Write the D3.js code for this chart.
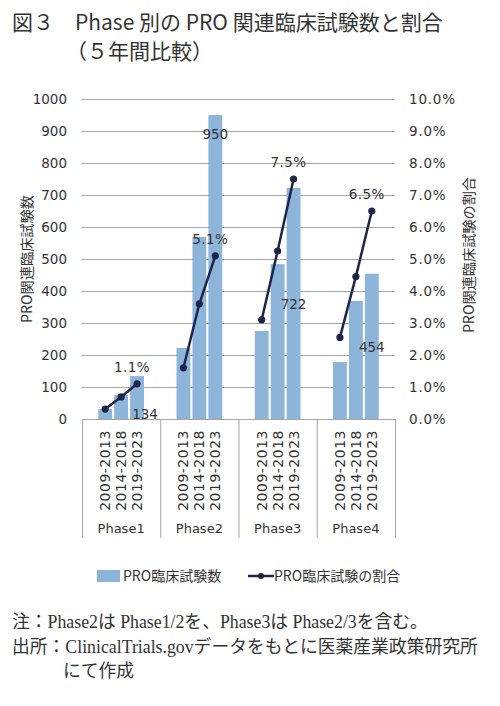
<!DOCTYPE html>
<html>
<head>
<meta charset="utf-8">
<script src="https://cdn.jsdelivr.net/npm/d3@7"></script>
<style>
  body { margin: 0; background: #fff; }
  text { fill: #333; }
</style>
</head>
<body>
<div id="chart"></div>
<script>
// data
const phases = ['Phase1', 'Phase2', 'Phase3', 'Phase4'];
const periods = ['2009-2013', '2014-2018', '2019-2023'];
const counts = [
  [31, 75, 134],
  [222, 569, 950],
  [275, 484, 722],
  [178, 369, 454],
];
const shares = [
  [0.31, 0.69, 1.1],
  [1.6, 3.6, 5.1],
  [3.1, 5.25, 7.5],
  [2.55, 4.45, 6.5],
];
const countTicks = d3.range(0, 1001, 100);
const shareTicks = d3.range(0, 10.01, 1);
// where the latest-period labels sit, in count units
const countLabelAt = [15, 890, 360, 225];

const width = 500, height = 706;
const margin = { top: 99, right: 105, bottom: 287, left: 82 };
const sans = 'Verdana, "DejaVu Sans", "Bitstream Vera Sans", sans-serif';
const cjk = '"Noto Sans CJK JP", sans-serif';

const svg = d3.select('#chart').append('svg')
  .attr('width', width)
  .attr('height', height)
  .attr('font-family', sans);

const x0 = d3.scaleBand()
  .domain(phases)
  .range([margin.left, width - margin.right]);

const x1 = d3.scaleBand()
  .domain(periods)
  .range([0, x0.bandwidth()])
  .paddingInner(0.13)
  .paddingOuter(1.02);

const y = d3.scaleLinear()
  .domain([0, 1000])
  .range([height - margin.bottom, margin.top]);

const y2 = d3.scaleLinear()
  .domain([0, 10])
  .range([height - margin.bottom, margin.top]);

const blue = '#8db5da';
const navy = '#1f2549';
const grid = '#a6a6a6';

// gridlines
svg.append('g')
  .selectAll('line')
  .data(countTicks)
  .join('line')
  .attr('x1', margin.left)
  .attr('x2', width - margin.right)
  .attr('y1', d => y(d) + 0.5)
  .attr('y2', d => y(d) + 0.5)
  .attr('stroke', grid)
  .attr('stroke-width', 1);

// left axis
svg.append('g')
  .attr('transform', `translate(${margin.left - 15},0)`)
  .call(d3.axisLeft(y).tickValues(countTicks).tickSize(0).tickPadding(0)
    .tickFormat(d3.format('d')))
  .attr('font-family', sans)
  .attr('font-size', 13.5)
  .call(g => g.select('.domain').remove())
  .call(g => g.selectAll('text').attr('fill', '#333'));

// right axis
svg.append('g')
  .attr('transform', `translate(${width - margin.right + 14},0)`)
  .call(d3.axisRight(y2).tickValues(shareTicks).tickSize(0).tickPadding(0)
    .tickFormat(d => d.toFixed(1) + '%'))
  .attr('font-family', sans)
  .attr('font-size', 13.5)
  .attr('letter-spacing', 0.8)
  .call(g => g.select('.domain').remove())
  .call(g => g.selectAll('text').attr('fill', '#333'));

// bars
const groups = svg.append('g')
  .selectAll('g')
  .data(phases)
  .join('g')
  .attr('transform', d => `translate(${x0(d)},0)`);

groups.selectAll('rect')
  .data((p, i) => counts[i].map((v, j) => ({ period: periods[j], v })))
  .join('rect')
  .attr('x', d => x1(d.period))
  .attr('width', x1.bandwidth())
  .attr('y', d => y(d.v))
  .attr('height', d => y(0) - y(d.v))
  .attr('fill', blue);

// category axis box
const axisBottom = height - margin.bottom + 119;
svg.append('line')
  .attr('x1', margin.left).attr('x2', width - margin.right)
  .attr('y1', y(0) + 0.5).attr('y2', y(0) + 0.5)
  .attr('stroke', grid);

svg.append('g')
  .selectAll('line')
  .data(phases.concat(['end']))
  .join('line')
  .attr('x1', d => (d === 'end' ? width - margin.right : x0(d)) + 0.5)
  .attr('x2', d => (d === 'end' ? width - margin.right : x0(d)) + 0.5)
  .attr('y1', y(0))
  .attr('y2', axisBottom)
  .attr('stroke', grid);

groups.selectAll('text.period')
  .data(periods)
  .join('text')
  .attr('class', 'period')
  .attr('transform', d => `translate(${x1(d) + x1.bandwidth() / 2 + 5},${y(0) + 11}) rotate(-90)`)
  .attr('text-anchor', 'end')
  .attr('font-size', 14)
  .attr('letter-spacing', 0.5)
  .text(d => d);

groups.append('text')
  .attr('x', x0.bandwidth() / 2)
  .attr('y', y(0) + 114)
  .attr('text-anchor', 'middle')
  .attr('font-size', 13)
  .text(d => d);

// share lines
const line = d3.line()
  .x((d, j) => x1(periods[j]) + x1.bandwidth() / 2)
  .y(d => y2(d));

groups.append('path')
  .attr('d', (p, i) => line(shares[i]))
  .attr('fill', 'none')
  .attr('stroke', navy)
  .attr('stroke-width', 2.5);

groups.selectAll('circle')
  .data((p, i) => shares[i].map((v, j) => ({ period: periods[j], v })))
  .join('circle')
  .attr('cx', d => x1(d.period) + x1.bandwidth() / 2)
  .attr('cy', d => y2(d.v))
  .attr('r', 3.6)
  .attr('fill', navy);

// data labels for the latest period
const last = periods[periods.length - 1];
groups.append('text')
  .attr('x', x1(last) + x1.bandwidth() / 2 - 5)
  .attr('y', (p, i) => y2(shares[i][2]) - 12)
  .attr('text-anchor', 'middle')
  .attr('font-size', 13.5)
  .attr('letter-spacing', 0.4)
  .text((p, i) => shares[i][2].toFixed(1) + '%');

groups.append('text')
  .attr('x', (p, i) => x1(last) + x1.bandwidth() / 2 + (i === 0 ? 8 : 0))
  .attr('y', (p, i) => y(countLabelAt[i]) + 5)
  .attr('text-anchor', 'middle')
  .attr('font-size', 13.5)
  .text((p, i) => counts[i][2]);

// axis titles
svg.append('text')
  .attr('transform', `translate(32,${(y(0) + y(1000)) / 2}) rotate(-90)`)
  .attr('text-anchor', 'middle')
  .attr('font-size', 14.2)
  .attr('font-family', cjk)
  .text('PRO関連臨床試験数');

svg.append('text')
  .attr('transform', `translate(474,${(y(0) + y(1000)) / 2 - 4}) rotate(-90)`)
  .attr('text-anchor', 'middle')
  .attr('font-size', 14.2)
  .attr('font-family', cjk)
  .text('PRO関連臨床試験の割合');

// legend
const legend = svg.append('g')
  .attr('transform', 'translate(97,576)')
  .attr('font-family', cjk)
  .attr('font-size', 14);

legend.append('rect')
  .attr('x', 0).attr('y', -6)
  .attr('width', 23).attr('height', 12)
  .attr('fill', blue);
legend.append('text')
  .attr('x', 26).attr('y', 5)
  .text('PRO臨床試験数');

legend.append('line')
  .attr('x1', 151).attr('x2', 177)
  .attr('y1', 0).attr('y2', 0)
  .attr('stroke', navy).attr('stroke-width', 2.5);
legend.append('circle')
  .attr('cx', 164).attr('cy', 0).attr('r', 3)
  .attr('fill', navy);
legend.append('text')
  .attr('x', 177).attr('y', 5)
  .text('PRO臨床試験の割合');

// title
const title = svg.append('g')
  .attr('font-family', cjk)
  .attr('font-size', 21);
title.append('text')
  .attr('x', 12).attr('y', 30)
  .text('図３　Phase 別の PRO 関連臨床試験数と割合');
title.append('text')
  .attr('x', 66).attr('y', 59)
  .text('（５年間比較）');

// notes
const notes = svg.append('g')
  .attr('font-family', '"Liberation Serif", "Noto Sans CJK JP", serif')
  .attr('font-size', 17.8);
notes.append('text')
  .attr('x', 12).attr('y', 628)
  .text('注：Phase2は Phase1/2を、Phase3は Phase2/3を含む。');
notes.append('text')
  .attr('x', 12).attr('y', 653)
  .text('出所：ClinicalTrials.govデータをもとに医薬産業政策研究所');
notes.append('text')
  .attr('x', 63).attr('y', 677)
  .text('にて作成');
</script>
</body>
</html>
